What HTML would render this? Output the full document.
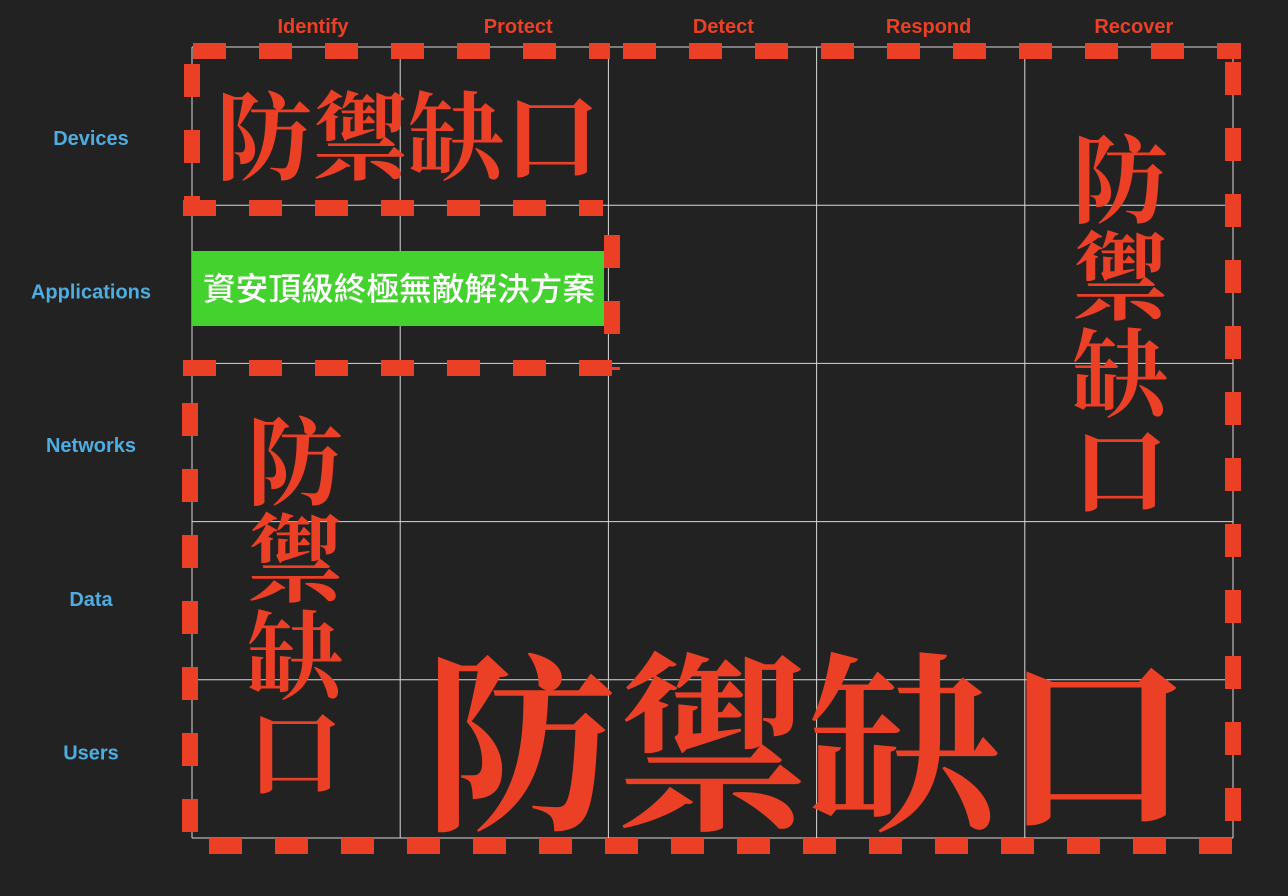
<!DOCTYPE html>
<html><head><meta charset="utf-8"><style>
html,body{margin:0;padding:0;background:#222222;}
svg{display:block}
.col{font:bold 20px "Liberation Sans",sans-serif;fill:#EB4026;text-anchor:middle}
.row{font:bold 20px "Liberation Sans",sans-serif;fill:#4EADE0;text-anchor:middle}
.gap{font-family:"Noto Serif CJK TC","Noto Serif CJK SC",serif;font-weight:700;fill:#EB4026;text-anchor:middle}
</style></head><body>
<svg id="chart" width="1288" height="896" viewBox="0 0 1288 896" xmlns="http://www.w3.org/2000/svg">
<g id="grid"></g>
<g id="labels"></g>
<rect x="192" y="251" width="412" height="75" fill="#44D22E"/>
<text x="399" y="300" fill="#ffffff" text-anchor="middle" textLength="392" lengthAdjust="spacingAndGlyphs" style="font:500 32px 'Liberation Sans','Noto Sans CJK TC',sans-serif">資安頂級終極無敵解決方案</text>
<g fill="none" stroke="#EB4026" stroke-width="16" stroke-dasharray="33 33">
<line x1="192" y1="51" x2="610" y2="51" stroke-dashoffset="-1"/>
<line x1="192" y1="64" x2="192" y2="215"/>
<line x1="183" y1="208" x2="603" y2="208"/>
</g>
<g fill="none" stroke="#EB4026" stroke-width="16" stroke-dasharray="33 33">
<line x1="612" y1="235" x2="612" y2="370"/>
<line x1="183" y1="368" x2="620" y2="368"/>
</g>
<g fill="none" stroke="#EB4026" stroke-width="16" stroke-dasharray="33 33">
<line x1="622" y1="51" x2="1241" y2="51" stroke-dashoffset="-1"/>
<line x1="1233" y1="62" x2="1233" y2="850"/>
<line x1="209" y1="846" x2="1233" y2="846"/>
<line x1="190" y1="403" x2="190" y2="835"/>
</g>
<text class="gap" x="408" y="172" font-size="96">防禦缺口</text>
<text class="gap" x="1120" font-size="96"><tspan x="1120" y="215">防</tspan><tspan x="1120" y="312">禦</tspan><tspan x="1120" y="409">缺</tspan><tspan x="1120" y="506">口</tspan></text>
<text class="gap" x="295" font-size="96"><tspan x="295" y="497">防</tspan><tspan x="295" y="594">禦</tspan><tspan x="295" y="691">缺</tspan><tspan x="295" y="788">口</tspan></text>
<text class="gap" x="808" y="815" font-size="192">防禦缺口</text>
<script>
const columns = ["Identify","Protect","Detect","Respond","Recover"];
const rows = ["Devices","Applications","Networks","Data","Users"];
const X0=192, X1=1233, Y0=47, Y1=838;
const cw=(X1-X0)/columns.length, rh=(Y1-Y0)/rows.length;
const xs=i=>X0+i*cw, ys=j=>Y0+j*rh;
const colLabelX=i=>313+i*205.2, rowLabelY=j=>145+j*153.6;
const NS="http://www.w3.org/2000/svg";
const grid=document.getElementById('grid'), lab=document.getElementById('labels');
for(let i=0;i<=columns.length;i++){
  const l=document.createElementNS(NS,'line');
  
  
  l.setAttribute('x1',xs(i));l.setAttribute('x2',xs(i));l.setAttribute('y1',Y0);l.setAttribute('y2',Y1);
  l.setAttribute('stroke','#d8d8d8');l.setAttribute('stroke-width','1');
  grid.appendChild(l);
}
for(let j=0;j<=rows.length;j++){
  const l=document.createElementNS(NS,'line');
  
  
  l.setAttribute('y1',ys(j));l.setAttribute('y2',ys(j));l.setAttribute('x1',X0);l.setAttribute('x2',X1);
  l.setAttribute('stroke','#d8d8d8');l.setAttribute('stroke-width','1');
  grid.appendChild(l);
}
columns.forEach((c,i)=>{
  const t=document.createElementNS(NS,'text');
  
  
  t.setAttribute('class','col');t.setAttribute('x',colLabelX(i));t.setAttribute('y',33);
  t.textContent=c;lab.appendChild(t);
});
rows.forEach((r,j)=>{
  const t=document.createElementNS(NS,'text');
  
  
  t.setAttribute('class','row');t.setAttribute('x',91);t.setAttribute('y',rowLabelY(j));
  t.textContent=r;lab.appendChild(t);
});
</script>
</svg>
</body></html>
